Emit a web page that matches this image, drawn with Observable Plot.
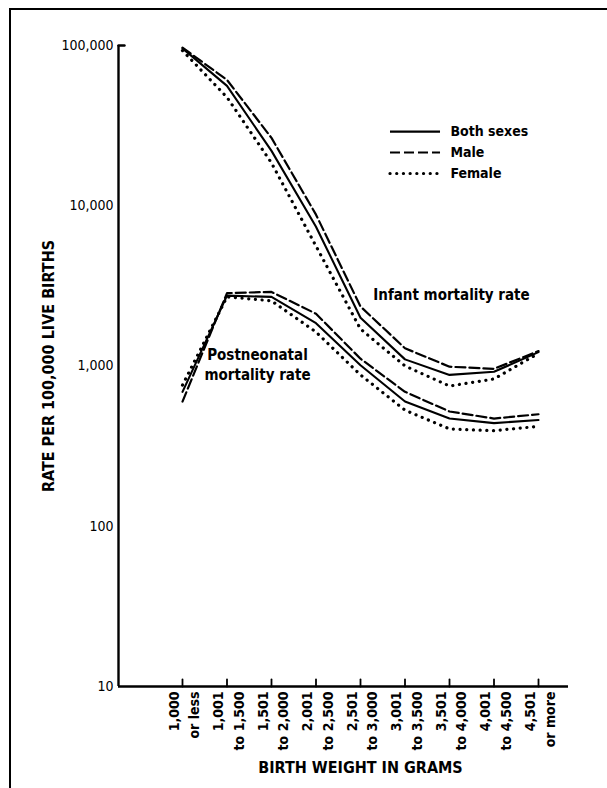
<!DOCTYPE html>
<html><head><meta charset="utf-8">
<script src="https://cdn.jsdelivr.net/npm/d3@7"></script>
<script src="https://cdn.jsdelivr.net/npm/@observablehq/plot@0.6"></script>
<style>
body{margin:0;background:#fff;}
#wrap{position:relative;width:607px;height:788px;overflow:hidden;background:#fff;}
#border{position:absolute;left:9px;top:8px;width:700px;height:900px;border-left:2.5px solid #000;border-top:2.5px solid #000;}
#wrap svg{position:absolute;left:0;top:0;}
</style></head><body><div id="wrap"><div id="border"></div></div>
<script>
// Birth-weight categories (x axis)
const categories = ["1,000\nor less", "1,001\nto 1,500", "1,501\nto 2,000", "2,001\nto 2,500", "2,501\nto 3,000", "3,001\nto 3,500", "3,501\nto 4,000", "4,001\nto 4,500", "4,501\nor more"];
// Infant mortality rate per 100,000 live births
const infantBoth   = [96000, 56000, 22000, 7400, 2000, 1100, 880, 920, 1220];
const infantMale   = [97000, 61000, 26500, 8800, 2350, 1290, 990, 960, 1240];
const infantFemale = [93000, 47500, 18500, 5600, 1700, 1000, 750, 830, 1200];
// Postneonatal mortality rate per 100,000 live births
const postBoth   = [690, 2750, 2700, 1850, 1010, 600, 470, 440, 460];
const postMale   = [600, 2850, 2900, 2120, 1110, 690, 520, 470, 500];
const postFemale = [760, 2700, 2550, 1630, 880, 530, 405, 395, 420];
// Y tick values
const yTicks = [10, 100, 1000, 10000, 100000];
const sexes = ["Both sexes", "Male", "Female"];
const yTitle = "RATE PER 100,000 LIVE BIRTHS";
const xTitle = "BIRTH WEIGHT IN GRAMS";
const infantLabel = "Infant mortality rate";
const postLabel = "Postneonatal\nmortality rate";

const xIndex = categories.map((_, i) => i);
const xDomain = [-1.438, 8.674];

const series = [
  {rate: "infant", sex: "Both sexes", values: infantBoth},
  {rate: "infant", sex: "Male", values: infantMale},
  {rate: "infant", sex: "Female", values: infantFemale},
  {rate: "post", sex: "Both sexes", values: postBoth},
  {rate: "post", sex: "Male", values: postMale},
  {rate: "post", sex: "Female", values: postFemale}
];
const rows = series.flatMap(s => s.values.map((v, i) => ({i, value: v, sex: s.sex, rate: s.rate})));

const styles = {
  "Both sexes": {strokeWidth: 2.1},
  "Male": {strokeWidth: 2.2, strokeDasharray: "10,4"},
  "Female": {strokeWidth: 3.2, strokeDasharray: "0.1,6.6", strokeLinecap: "round"}
};

// legend placement (index units / rate units)
const legend = [
  {sex: "Both sexes", y: 29000},
  {sex: "Male", y: 21500},
  {sex: "Female", y: 15900}
];
const legX1 = 4.674, legX2 = 5.798, legTextX = 6.02;

const tickShape = {draw(context, l) { context.moveTo(0, 0); context.lineTo(0, -l); }};
const font = "'DejaVu Sans Condensed', 'DejaVu Sans', sans-serif";

const marks = [
  Plot.ruleY([10], {strokeWidth: 2.6}),
  Plot.ruleX([xDomain[0]], {strokeWidth: 2.4}),
  Plot.vector([100000], {x: xDomain[0], y: d => d, length: 6, rotate: 90, anchor: "start", shape: tickShape, strokeWidth: 2.4}),
  Plot.vector(xIndex, {x: d => d, y: 10, length: 7, rotate: 0, anchor: "start", shape: tickShape, strokeWidth: 1.8}),
  Plot.text(yTicks, {x: xDomain[0], y: d => d, text: d => d3.format(",")(d), textAnchor: "end", dx: -5, fontSize: 14}),
  Plot.text(xIndex, {x: d => d, y: 10, text: d => categories[d], rotate: -90, textAnchor: "end", lineAnchor: "middle", lineHeight: 1.45, dy: 5, fontSize: 14, fontWeight: "bold"}),
  Plot.text([yTitle], {frameAnchor: "left", textAnchor: "middle", dx: -70, rotate: -90, fontSize: 16, fontWeight: "bold"}),
  Plot.text([xTitle], {frameAnchor: "bottom", textAnchor: "middle", dx: 17, dy: 86, fontSize: 16, fontWeight: "bold"}),
  Plot.text([infantLabel], {x: 6.045, y: 2750, fontSize: 15, fontWeight: "bold"}),
  Plot.text([postLabel], {x: 1.685, y: 1040, fontSize: 15, fontWeight: "bold", lineHeight: 1.35})
];
for (const sex of sexes) {
  marks.push(Plot.line(rows.filter(d => d.sex === sex), {x: "i", y: "value", z: "rate", stroke: "black", ...styles[sex]}));
  const item = legend.filter(d => d.sex === sex);
  marks.push(Plot.ruleY(item, {y: "y", x1: legX1, x2: legX2, stroke: "black", ...styles[sex]}));
}
marks.push(Plot.text(legend, {x: legTextX, y: "y", text: "sex", textAnchor: "start", fontSize: 14, fontWeight: "bold"}));

const chart = Plot.plot({
  width: 607, height: 788,
  marginTop: 45, marginBottom: 102, marginLeft: 118, marginRight: 39,
  x: {type: "linear", domain: xDomain, axis: null},
  y: {type: "log", domain: [10, 100000], axis: null},
  style: {fontFamily: font, background: "transparent", color: "black", overflow: "visible"},
  marks
});
document.getElementById("wrap").appendChild(chart);
</script>
</body></html>
